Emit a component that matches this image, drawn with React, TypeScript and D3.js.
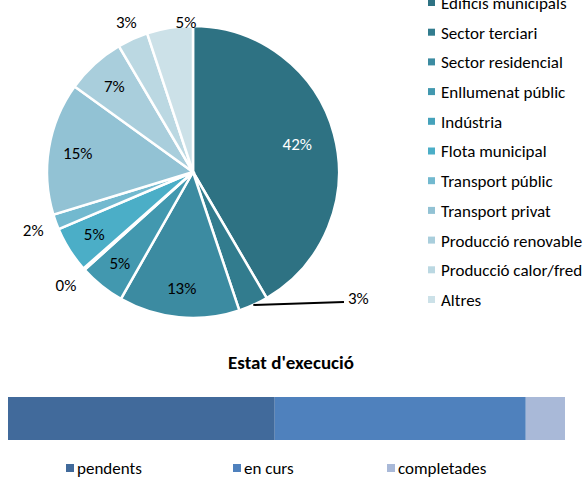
import React from "react";
import * as d3 from "d3";

const sectors = [
  "Edificis municipals",
  "Sector terciari",
  "Sector residencial",
  "Enllumenat públic",
  "Indústria",
  "Flota municipal",
  "Transport públic",
  "Transport privat",
  "Producció renovable",
  "Producció calor/fred",
  "Altres",
];
const sectorValues = [41.7, 3.3, 13.4, 5.1, 0.2, 5.1, 1.7, 14.7, 6.6, 3.4, 5.1];
const sectorColors = [
  "#2E7283", "#327C8E", "#3C8BA1", "#4298AF", "#45A2BB", "#4BAEC7",
  "#72B9CF", "#92C2D4", "#A9CEDC", "#BBD8E2", "#CCE1E8",
];
const outsideLabels = ["Indústria", "Transport públic", "Producció calor/fred", "Altres"];
const leaderLabels = ["Sector terciari"];

const statusNames = ["pendents", "en curs", "completades"];
const statusValues = [34, 32, 5];
const statusColors = ["#416A9B", "#4F81BD", "#A9B9D8"];

const FONT = "Carlito, Calibri, Lato, 'Open Sans', sans-serif";

export default function App() {
  const W = 585, H = 479;
  const cx = 193, cy = 172, r = 146;
  const total = d3.sum(sectorValues);
  const pie = d3.pie<number>().sort(null).value((d) => d)(sectorValues);
  const arc = d3.arc<d3.PieArcDatum<number>>().innerRadius(0).outerRadius(r);

  const pt = (a: number, rad: number) => [cx + rad * Math.sin(a), cy - rad * Math.cos(a)];
  const LS = 17;
  const topLimit = 22;

  // legend
  const legY = d3.scalePoint<string>().domain(sectors).range([3, 300]);

  // bar
  const x = d3.scaleLinear().domain([0, d3.sum(statusValues)]).range([8, 565]);
  let acc = 0;
  const stacks = statusValues.map((v, i) => {
    const s = { x0: acc, x1: acc + v, i };
    acc += v;
    return s;
  });
  const legX = d3.scaleOrdinal<string, number>().domain(statusNames).range([66, 233, 387]);

  return (
    <svg width={W} height={H} style={{ position: "absolute", left: 0, top: 0, background: "#fff" }} fontFamily={FONT}>
      <g transform={`translate(${cx},${cy})`}>
        {pie.map((p, i) => (
          <path key={i} d={arc(p) || ""} fill={sectorColors[i]} stroke="#fff" strokeWidth={2.5} />
        ))}
      </g>
      {pie.map((p, i) => {
        const pct = Math.round((p.value / total) * 100) + "%";
        const mid = (p.startAngle + p.endAngle) / 2;
        const name = sectors[i];
        if (leaderLabels.includes(name)) {
          const [x1, y1] = pt(mid, r);
          const x2 = cx + r + 5;
          const y2 = y1 - 3;
          return (
            <g key={i}>
              <line x1={x1} y1={y1} x2={x2} y2={y2} stroke="#000" strokeWidth={2} />
              <text x={x2 + 4} y={y2 - 4} dy="0.35em" fontSize={LS} fill="#000">{pct}</text>
            </g>
          );
        }
        if (outsideLabels.includes(name)) {
          const hw = 12, hh = 8;
          const rad = r + 10 + hw * Math.abs(Math.sin(mid)) + hh * Math.abs(Math.cos(mid));
          let [lx, ly] = pt(mid, rad);
          if (ly < topLimit) {
            const over = topLimit - ly;
            const k = Math.max(0, 1 - (over / 16) ** 2);
            lx = cx + (lx - cx) * k;
            ly = topLimit;
          }
          return (
            <text key={i} x={lx} y={ly} dy="0.35em" textAnchor="middle" fontSize={LS} fill="#000">{pct}</text>
          );
        }
        const big = p.endAngle - p.startAngle > Math.PI / 2;
        const [lx, ly] = pt(mid, r * (big ? 0.74 : 0.8));
        return (
          <text key={i} x={lx} y={ly} dy="0.35em" textAnchor="middle" fontSize={LS} fill={big ? "#fff" : "#000"}>{pct}</text>
        );
      })}
      {sectors.map((s, i) => (
        <g key={s} transform={`translate(0,${legY(s)})`}>
          <rect x={428} y={-4} width={7} height={7} fill={sectorColors[i]} />
          <text x={441} y={0} dy="0.35em" fontSize={LS} fill="#000">{s}</text>
        </g>
      ))}

      <text x={291} y={362} dy="0.35em" textAnchor="middle" fontSize={19} fontWeight="bold" fill="#000">Estat d'execució</text>
      {stacks.map((s) => (
        <rect key={s.i} x={x(s.x0)} y={397} width={x(s.x1) - x(s.x0)} height={43} fill={statusColors[s.i]} />
      ))}
      {statusNames.map((n, i) => (
        <g key={n} transform={`translate(${legX(n)},468)`}>
          <rect x={0} y={-4} width={8} height={8} fill={statusColors[i]} />
          <text x={11} y={0} dy="0.35em" fontSize={17} fill="#000">{n}</text>
        </g>
      ))}
    </svg>
  );
}
